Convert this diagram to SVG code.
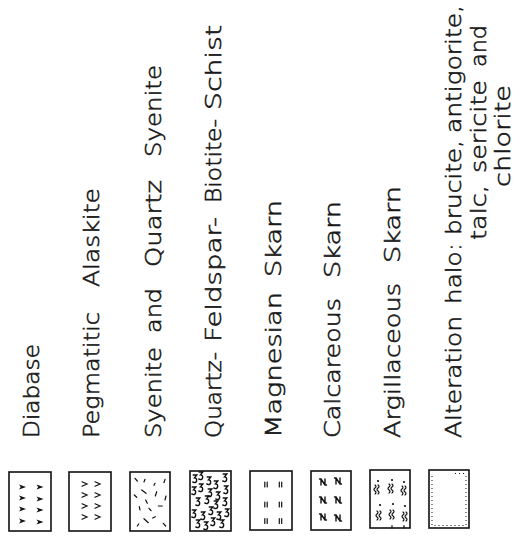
<svg xmlns="http://www.w3.org/2000/svg" xmlns:xlink="http://www.w3.org/1999/xlink" width="521" height="540" viewBox="0 0 521 540">
<style>
.box{fill:#fff;stroke:#111;stroke-width:1.6}
.lbl{font-family:"DejaVu Sans",sans-serif;font-size:22px;font-weight:200;fill:#1a1a1a;stroke:#1a1a1a;stroke-width:0.6}
.mk{stroke:#111;stroke-width:1.2;fill:none;stroke-linecap:round}
.fl{fill:#111;stroke:none}
.dot{stroke:#111;stroke-width:1;fill:none;stroke-dasharray:1 3}
</style>
<defs>
<path id="arr" class="fl" d="M-3.5,-2.6 L3.5,0 L-3.5,2.6 L-1.8,0 Z"/>
<path id="chev" class="mk" d="M-2.5,-2.2 L2.5,0 L-2.5,2.2"/>
<path id="sq" class="mk" style="stroke-width:1.4" d="M-1.8,-4 L1.8,-4 L-0.5,-1.2 C2.4,-1.2 2.4,3.6 -0.6,3.6 L-2.2,3"/>
<path id="bars" class="mk" d="M-1.2,-2.5 V2.5 M1.2,-2.5 V2.5"/>
<path id="kap" class="mk" style="stroke-width:1.4" d="M-3.5,-3 H-2 V3 M-2,-3 L2,3 M2,3 V-3 M2,3 H3.5"/>
<path id="wv" class="mk" d="M-2,-5 q2,1.5 0,3 q-2,1.5 0,3 q2,1.5 0,3 M1,-5 q2,1.5 0,3 q-2,1.5 0,3 q2,1.5 0,3"/>
</defs>
<rect width="521" height="540" fill="#fff"/>

<g id="node-diabase">
<rect class="box" x="9" y="472" width="42" height="59"/>
<use xlink:href="#arr" x="22.5" y="487"/><use xlink:href="#arr" x="40" y="487"/>
<use xlink:href="#arr" x="22.5" y="498"/><use xlink:href="#arr" x="40" y="499"/>
<use xlink:href="#arr" x="22.5" y="509"/><use xlink:href="#arr" x="40" y="510"/>
<use xlink:href="#arr" x="22.5" y="521"/><use xlink:href="#arr" x="40" y="522"/>
<g transform="translate(39,438) rotate(-90)"><text class="lbl" x="0" textLength="94" lengthAdjust="spacingAndGlyphs">Diabase</text></g>
</g>

<g id="node-pegmatitic">
<rect class="box" x="69" y="472" width="42" height="59"/>
<use xlink:href="#chev" x="84.5" y="484"/><use xlink:href="#chev" x="97.5" y="484"/>
<use xlink:href="#chev" x="84.5" y="495"/><use xlink:href="#chev" x="97.5" y="495"/>
<use xlink:href="#chev" x="84.5" y="506"/><use xlink:href="#chev" x="97.5" y="506"/>
<use xlink:href="#chev" x="84.5" y="517"/><use xlink:href="#chev" x="97.5" y="517"/>
<g transform="translate(99,438) rotate(-90)">
<text class="lbl" x="0" textLength="126" lengthAdjust="spacingAndGlyphs">Pegmatitic</text>
<text class="lbl" x="151" textLength="99" lengthAdjust="spacingAndGlyphs">Alaskite</text>
</g>
</g>

<g id="node-syenite">
<rect class="box" x="130" y="472" width="40" height="59"/>
<path class="mk" d="M135,478.3 L137.3,481 M145,479.3 L144,482 M155,483.3 L154,485.3 M165,479.3 L164,482.7 M141.7,490 L146,493.3 M156.7,491.7 L155.3,496 M134.3,495 L136.7,497.3 M166,496 L165,500 M145.7,500 L147.3,503.3 M139.3,506.7 L140,510 M149,508.3 L151,510.7 M158.3,506 L162.3,506 M144,518.7 L148.3,522.7 M152.7,518 L155.3,516.7 M137.3,526 L138.7,524 M163.3,523.3 L165.7,526"/>
<g transform="translate(161,438) rotate(-90)">
<text class="lbl" x="0" textLength="91" lengthAdjust="spacingAndGlyphs">Syenite</text>
<text class="lbl" x="105" textLength="45" lengthAdjust="spacingAndGlyphs">and</text>
<text class="lbl" x="171" textLength="87" lengthAdjust="spacingAndGlyphs">Quartz</text>
<text class="lbl" x="281" textLength="92" lengthAdjust="spacingAndGlyphs">Syenite</text>
</g>
</g>

<g id="node-schist">
<rect class="box" x="190" y="471" width="41" height="60"/>
<use xlink:href="#sq" x="195" y="479"/><use xlink:href="#sq" x="201" y="476"/><use xlink:href="#sq" x="209" y="481"/><use xlink:href="#sq" x="216" y="485"/><use xlink:href="#sq" x="225" y="478"/>
<use xlink:href="#sq" x="194" y="491"/><use xlink:href="#sq" x="201" y="488"/><use xlink:href="#sq" x="210" y="493"/><use xlink:href="#sq" x="218" y="496"/><use xlink:href="#sq" x="226" y="490"/>
<use xlink:href="#sq" x="198" y="502"/><use xlink:href="#sq" x="207" y="500"/><use xlink:href="#sq" x="216" y="505"/><use xlink:href="#sq" x="225" y="502"/>
<use xlink:href="#sq" x="194" y="514"/><use xlink:href="#sq" x="203" y="516"/><use xlink:href="#sq" x="211" y="511"/><use xlink:href="#sq" x="219" y="516"/><use xlink:href="#sq" x="227" y="513"/>
<use xlink:href="#sq" x="198" y="524"/><use xlink:href="#sq" x="206" y="526"/><use xlink:href="#sq" x="213" y="522"/><use xlink:href="#sq" x="222" y="524"/>
<g transform="translate(221,438) rotate(-90)">
<text class="lbl" x="0" textLength="86" lengthAdjust="spacingAndGlyphs">Quartz-</text>
<text class="lbl" x="96" textLength="125" lengthAdjust="spacingAndGlyphs">Feldspar-</text>
<text class="lbl" x="235" textLength="84" lengthAdjust="spacingAndGlyphs">Biotite-</text>
<text class="lbl" x="328" textLength="85" lengthAdjust="spacingAndGlyphs">Schist</text>
</g>
</g>

<g id="node-magnesian">
<rect class="box" x="250" y="471" width="42" height="59"/>
<use xlink:href="#bars" x="266" y="484.5"/><use xlink:href="#bars" x="280.5" y="484.5"/>
<use xlink:href="#bars" x="266" y="504.5"/><use xlink:href="#bars" x="280.5" y="504.5"/>
<use xlink:href="#bars" x="266" y="521"/><use xlink:href="#bars" x="280.5" y="521"/>
<g transform="translate(281,438) rotate(-90)">
<text class="lbl" x="0" textLength="146" lengthAdjust="spacingAndGlyphs">Magnesian</text>
<text class="lbl" x="161" textLength="77" lengthAdjust="spacingAndGlyphs">Skarn</text>
</g>
</g>

<g id="node-calcareous">
<rect class="box" x="311" y="471" width="40" height="59"/>
<use xlink:href="#kap" x="323" y="482"/><use xlink:href="#kap" x="338" y="481"/>
<use xlink:href="#kap" x="323" y="500"/><use xlink:href="#kap" x="338" y="500"/>
<use xlink:href="#kap" x="323" y="517"/><use xlink:href="#kap" x="338" y="518"/>
<g transform="translate(340,438) rotate(-90)">
<text class="lbl" x="0" textLength="140" lengthAdjust="spacingAndGlyphs">Calcareous</text>
<text class="lbl" x="160" textLength="77" lengthAdjust="spacingAndGlyphs">Skarn</text>
</g>
</g>

<g id="node-argillaceous">
<rect class="box" x="370" y="470" width="40" height="58"/>
<circle class="fl" cx="378" cy="481" r="1.1"/><circle class="fl" cx="392" cy="480" r="1.1"/><circle class="fl" cx="404" cy="482" r="1.1"/>
<circle class="fl" cx="380" cy="505" r="1.1"/><circle class="fl" cx="393" cy="504" r="1.1"/><circle class="fl" cx="405" cy="506" r="1.1"/>
<use xlink:href="#wv" x="377" y="490"/><use xlink:href="#wv" x="391" y="489"/><use xlink:href="#wv" x="404" y="491"/>
<use xlink:href="#wv" x="379" y="516"/><use xlink:href="#wv" x="392" y="515"/><use xlink:href="#wv" x="405" y="517"/>
<path class="mk" d="M392,525.5 V528 M404,525.5 V528"/>
<g transform="translate(400,438) rotate(-90)">
<text class="lbl" x="0" textLength="155" lengthAdjust="spacingAndGlyphs">Argillaceous</text>
<text class="lbl" x="175" textLength="77" lengthAdjust="spacingAndGlyphs">Skarn</text>
</g>
</g>

<g id="node-alteration">
<rect class="box" x="429" y="470" width="40" height="58"/>
<path class="dot" d="M432,476 V525.5 H466 V474 M455,473.5 H466"/>
<g transform="translate(461,438) rotate(-90)">
<text class="lbl" x="0" textLength="122" lengthAdjust="spacingAndGlyphs">Alteration</text>
<text class="lbl" x="134" textLength="61" lengthAdjust="spacingAndGlyphs">halo:</text>
<text class="lbl" x="203" textLength="95" lengthAdjust="spacingAndGlyphs">brucite,</text>
<text class="lbl" x="305" textLength="128" lengthAdjust="spacingAndGlyphs">antigorite,</text>
</g>
<g transform="translate(486,438) rotate(-90)">
<text class="lbl" x="198" textLength="55" lengthAdjust="spacingAndGlyphs">talc,</text>
<text class="lbl" x="265" textLength="93" lengthAdjust="spacingAndGlyphs">sericite</text>
<text class="lbl" x="371" textLength="42" lengthAdjust="spacingAndGlyphs">and</text>
</g>
<g transform="translate(510,438) rotate(-90)">
<text class="lbl" x="251" textLength="102" lengthAdjust="spacingAndGlyphs">chlorite</text>
</g>
</g>
</svg>
